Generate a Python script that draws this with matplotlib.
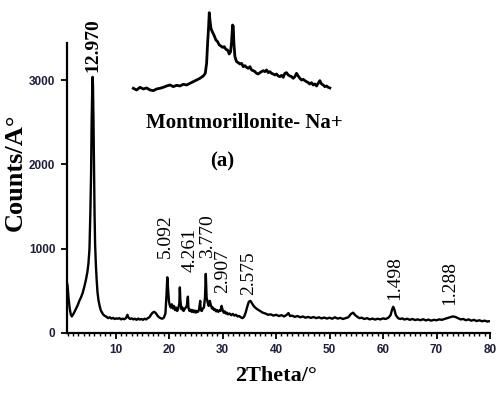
import matplotlib
matplotlib.use("Agg")
import matplotlib.pyplot as plt
from matplotlib.ticker import MultipleLocator

# XRD pattern of Montmorillonite-Na+
two_theta = [
    0.8, 1.0, 1.2, 1.4, 1.6, 1.8, 2.0, 2.3, 2.6, 2.9, 3.2, 3.5, 3.8, 4.1, 4.4, 4.7, 4.9, 5.1,
    5.25, 5.4, 5.5, 5.6, 5.68, 5.75, 5.85, 5.95, 6.05, 6.15, 6.3, 6.45, 6.6, 6.8, 7.0, 7.2,
    7.45, 7.7, 8.0,
    8.3, 8.6, 8.9, 9.2, 9.5, 9.8, 10.1, 10.4, 10.7, 11.0, 11.3, 11.6, 11.9, 12.2, 12.4, 12.7,
    13.0, 13.3, 13.6, 13.9, 14.2, 14.5, 14.8, 15.1, 15.4, 15.7, 16.0, 16.3, 16.6, 16.9, 17.2,
    17.5, 17.8, 18.1, 18.4, 18.7, 19.0, 19.3, 19.5, 19.65, 19.8, 19.95,
    20.1, 20.3, 20.5, 20.7, 20.9, 21.1, 21.3, 21.5, 21.7, 21.9, 22.0, 22.1, 22.3, 22.5, 22.7,
    22.9, 23.1, 23.3, 23.5, 23.6, 23.8, 24.0, 24.2, 24.4, 24.6, 24.8, 25.0, 25.2, 25.4, 25.6,
    25.8, 25.9, 26.1, 26.3, 26.5, 26.7, 26.85, 27.0, 27.2, 27.4, 27.6, 27.8, 28.0, 28.2, 28.4,
    28.6, 28.8, 29.0, 29.2, 29.4, 29.6, 29.8, 30.0, 30.2, 30.4, 30.6, 30.8, 31.0, 31.3, 31.6,
    31.9, 32.2, 32.5, 32.8, 33.1, 33.4, 33.7, 34.0, 34.3, 34.6, 34.9, 35.2, 35.5, 35.8, 36.1,
    36.5, 37.0, 37.5, 38.0, 38.5, 39.0, 39.5, 40.0, 40.5, 41.0, 41.5, 42.0, 42.3, 42.6, 43.0,
    43.5, 44.0, 44.5, 45.0, 45.5, 46.0, 46.5, 47.0, 47.5, 48.0, 48.5, 49.0, 49.5, 50.0, 50.5,
    51.0, 51.5, 52.0, 52.5, 53.0, 53.5, 54.0, 54.4, 54.8, 55.2, 55.6, 56.0, 56.5, 57.0, 57.5,
    58.0, 58.5, 59.0, 59.5, 60.0, 60.5, 61.0, 61.4, 61.7, 61.9, 62.1, 62.4, 62.8, 63.2, 63.6,
    64.0, 64.5, 65.0, 65.5, 66.0, 66.5, 67.0, 67.5, 68.0, 68.5, 69.0, 69.5, 70.0, 70.5, 71.0,
    71.5, 72.0, 72.5, 73.0, 73.5, 74.0, 74.5, 75.0, 75.5, 76.0, 76.5, 77.0, 77.5, 78.0, 78.5,
    79.0, 79.5, 80.0,
]
counts = [
    620, 560, 400, 290, 220, 195, 215, 250, 290, 330, 380, 420, 470, 540, 620, 720, 820, 1000,
    1400, 1900, 2500, 2850, 3040, 2950, 2500, 1900, 1400, 1050, 800, 620, 480, 380, 320, 270,
    240, 215, 200,
    190, 175, 185, 170, 178, 165, 172, 168, 175, 160, 170, 162, 175, 215, 180, 165,
    172, 160, 168, 155, 170, 158, 165, 155, 168, 160, 175, 185, 215, 240, 250,
    235, 205, 185, 175, 168, 180, 230, 450, 660, 520, 380,
    330, 300, 340, 290, 320, 270, 300, 260, 290, 350, 540, 380, 280, 300, 260,
    285, 300, 320, 430, 300, 260, 275, 250, 270, 245, 265, 240, 260, 250, 280,
    380, 270, 260, 290, 300, 420, 700, 420, 360, 320, 380, 330, 290, 300, 270,
    280, 255, 270, 250, 265, 260, 320, 270, 240, 255, 230, 240, 220, 230, 210,
    225, 205, 215, 195, 200, 185, 175, 190, 240, 310, 370, 380, 350, 320, 300,
    280, 260, 240, 230, 215, 220, 205, 215, 200, 210, 195, 215, 235, 200, 205,
    190, 200, 185, 195, 180, 190, 178, 188, 175, 185, 172, 182, 170, 180, 168,
    185, 170, 178, 165, 175, 185, 225, 240, 210, 190, 175, 180, 165, 175, 160,
    170, 158, 168, 160, 172, 165, 180, 210, 280, 310, 280, 210, 175, 165, 172,
    158, 168, 155, 165, 152, 160, 150, 162, 148, 158, 145, 155, 150, 160, 155,
    165, 175, 185, 195, 190, 175, 160, 165, 150, 160, 145, 155, 140, 150, 138,
    145, 135, 140,
]

# d-spacing labels (Å) and where they sit
peak_labels = ["12.970", "5.092", "4.261", "3.770", "2.907", "2.575", "1.498", "1.288"]
label_x = [5.69, 19.36, 24.0, 27.15, 30.0, 34.9, 62.25, 72.5]
label_y = [3096, 890, 724, 890, 475, 450, 391, 332]

# inset trace (arbitrary units)
inset_x = [
    10, 20, 30, 40, 50, 60, 70, 80, 90, 100, 110, 120, 130, 140, 150, 160, 170, 180, 190, 200,
    210, 220, 226, 230, 233, 236, 238, 240, 243, 247, 252, 258, 263, 268, 273, 278, 283, 288,
    293, 298, 302, 305, 308, 310, 312, 315, 320, 325, 330, 335, 340, 345, 350, 355, 360, 365,
    370, 375, 380, 385, 390, 395, 400, 405, 410, 415, 420, 425, 430, 435, 440, 445, 450, 455,
    460, 465, 470, 475, 480, 485, 490, 495, 500, 505, 510, 515, 520, 525, 530, 535, 540, 545,
    550, 555, 560, 565, 570, 575, 580, 585, 590, 595, 600,
]
inset_y = [
    35, 30, 38, 33, 36, 30, 28, 33, 35, 38, 42, 45, 40, 44, 42, 47, 45, 50, 55, 60,
    65, 72, 80, 110, 170, 220, 262, 240, 215, 205, 195, 180, 175, 165, 162, 158, 160, 152,
    150, 138, 145, 175, 225, 222, 170, 130, 115, 112, 108, 110, 100, 103, 98, 95, 100, 90,
    88, 85, 80, 78, 82, 85, 88, 85, 90, 82, 85, 80, 78, 75, 78, 72, 70, 74,
    68, 80, 82, 75, 72, 70, 65, 70, 80, 72, 65, 60, 62, 58, 55, 52, 48, 52,
    45, 48, 42, 50, 58, 48, 45, 40, 42, 38, 36,
]

serif = ["Liberation Serif", "DejaVu Serif"]
narrow = ["Liberation Sans Narrow", "Liberation Sans", "DejaVu Sans"]
tick_col = "#1f1f3a"

fig = plt.figure(figsize=(5.0, 3.93), dpi=100)
ax = fig.add_axes([0.133, 0.153, 0.847, 0.737])

ax.plot(two_theta, counts, color="black", lw=1.7)
ax.set_xlim(0.8, 80)
ax.set_ylim(0, 3440)

for s in ["top", "right"]:
    ax.spines[s].set_visible(False)
for s in ["left", "bottom"]:
    ax.spines[s].set_linewidth(1.6)

ax.xaxis.set_minor_locator(MultipleLocator(1))
ax.set_xticks([10, 20, 30, 40, 50, 60, 70, 80])
ax.set_yticks([0, 1000, 2000, 3000])
ax.tick_params(axis="both", which="major", direction="out", length=4, width=1.3,
               labelsize=8.5, labelcolor=tick_col, pad=4)
ax.tick_params(axis="x", which="minor", direction="out", length=2.5, width=1.0)
for lab in ax.get_xticklabels() + ax.get_yticklabels():
    lab.set_family(narrow)
    lab.set_fontweight("bold")

for txt, x, y in zip(peak_labels, label_x, label_y):
    ax.text(x, y, txt, rotation=90, ha="center", va="bottom", fontsize=14,
            family=serif, fontweight="bold" if txt == "12.970" else "normal",
            clip_on=False)

fig.text(0.03, 0.562, "Counts/A°", rotation=90, ha="center", va="center",
         fontsize=19, fontweight="bold", family=serif)
fig.text(0.552, 0.043, "2Theta/°", ha="center", va="center",
         fontsize=16, fontweight="bold", family=serif)

# inset
ins = fig.add_axes([0.26, 0.7626, 0.403, 0.2288])
ins.plot(inset_x, inset_y, color="black", lw=2.0)
ins.set_xlim(0, 605)
ins.set_ylim(20, 290)
ins.axis("off")

fig.text(0.488, 0.687, "Montmorillonite- Na+", ha="center", va="center",
         fontsize=15, fontweight="bold", family=serif)
fig.text(0.444, 0.588, "(a)", ha="center", va="center",
         fontsize=15, fontweight="bold", family=serif)

fig.savefig("out.png", dpi=100)
